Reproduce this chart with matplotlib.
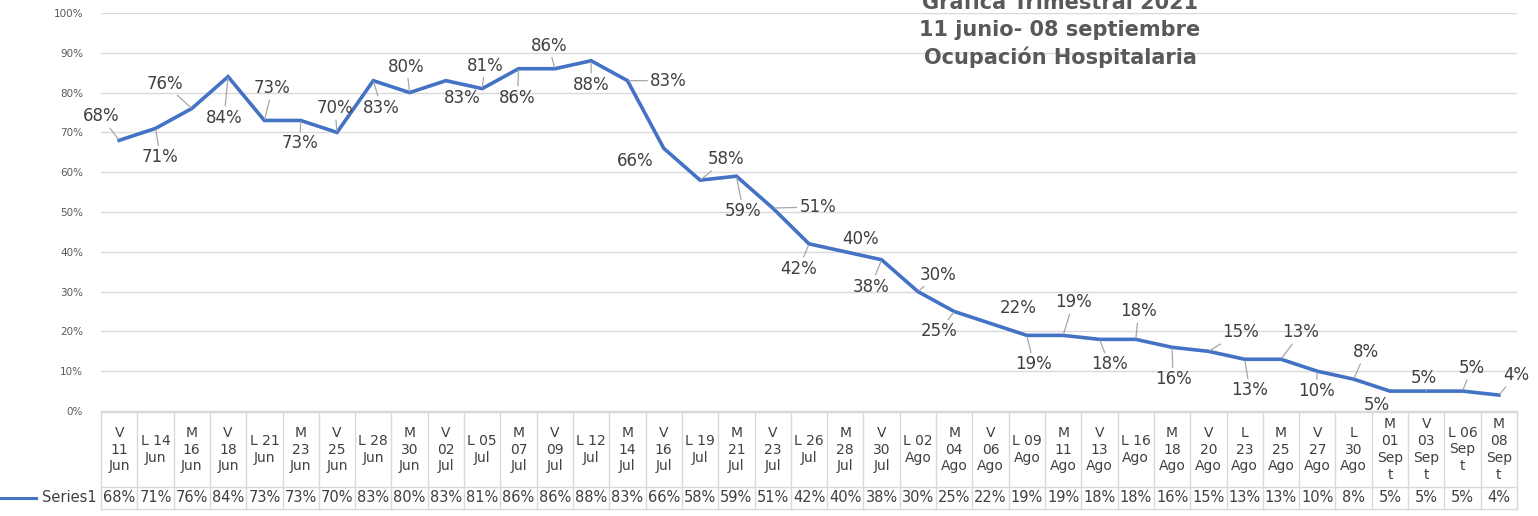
import matplotlib
matplotlib.use("Agg")
import matplotlib.pyplot as plt
from matplotlib.lines import Line2D

# data
categories = ["V\n11\nJun", "L 14\nJun", "M\n16\nJun", "V\n18\nJun", "L 21\nJun",
              "M\n23\nJun", "V\n25\nJun", "L 28\nJun", "M\n30\nJun", "V\n02\nJul",
              "L 05\nJul", "M\n07\nJul", "V\n09\nJul", "L 12\nJul", "M\n14\nJul",
              "V\n16\nJul", "L 19\nJul", "M\n21\nJul", "V\n23\nJul", "L 26\nJul",
              "M\n28\nJul", "V\n30\nJul", "L 02\nAgo", "M\n04\nAgo", "V\n06\nAgo",
              "L 09\nAgo", "M\n11\nAgo", "V\n13\nAgo", "L 16\nAgo", "M\n18\nAgo",
              "V\n20\nAgo", "L\n23\nAgo", "M\n25\nAgo", "V\n27\nAgo", "L\n30\nAgo",
              "M\n01\nSep\nt", "V\n03\nSep\nt", "L 06\nSep\nt", "M\n08\nSep\nt"]
ocupacion = [68, 71, 76, 84, 73, 73, 70, 83, 80, 83, 81, 86, 86, 88, 83, 66, 58, 59, 51,
             42, 40, 38, 30, 25, 22, 19, 19, 18, 18, 16, 15, 13, 13, 10, 8, 5, 5, 5, 4]
series_name = "Series1"
title_lines = ["Gráfica Trimestral 2021", "11 junio- 08 septiembre", "Ocupación Hospitalaria"]
yticks = [0, 10, 20, 30, 40, 50, 60, 70, 80, 90, 100]

# where each data label sits, in pixels from its point (x right, y down)
label_dx = [-18, 5, -27, -4, 8, -1, -2, 8, -3, 16, 3, -1, -6, 0, 41, -29, 26, 7, 45,
            -10, 15, -11, 20, -15, 28, 7, 10, 10, 3, 1, 32, 5, 20, -1, 12, -13, -2, 9, 17]
label_dy = [-24, 29, -25, 41, -32, 23, -24, 27, -26, 17, -23, 29, -23, 24, 0, 13, -21, 35, -1,
            25, -13, 27, -17, 20, -15, 29, -33, 25, -28, 32, -19, 31, -27, 20, -27, 14, -13, -23, -20]
no_leader = {9, 15, 20, 24, 35}

W, H = 1538, 516
fig = plt.figure(figsize=(W / 100, H / 100), dpi=100)
ax = fig.add_axes([101 / W, 1 - 411 / H, (1517 - 101) / W, (411 - 13) / H])

x = list(range(len(ocupacion)))
grid_c = "#d9d9d9"
text_c = "#404040"

ax.set_xlim(-0.5, len(x) - 0.5)
ax.set_ylim(0, 100)
ax.set_yticks(yticks)
ax.set_yticklabels([f"{t}%" for t in yticks], fontsize=7.5, color="#595959")
ax.tick_params(axis="y", length=0, pad=13)
ax.set_xticks([])
ax.grid(axis="y", color=grid_c, lw=1)
ax.set_axisbelow(True)
for s in ["top", "right", "left"]:
    ax.spines[s].set_visible(False)
ax.spines["bottom"].set_color(grid_c)

line_c = "#4472C4"
ax.plot(x, ocupacion, color=line_c, lw=2.6, solid_joinstyle="miter", zorder=3)

for i, v in enumerate(ocupacion):
    arrow = None
    if i not in no_leader:
        arrow = dict(arrowstyle="-", color="#a6a6a6", lw=0.9, shrinkA=0, shrinkB=1)
    ax.annotate(f"{v}%", (i, v), xytext=(label_dx[i], -label_dy[i]),
                textcoords="offset pixels", ha="center", va="center",
                fontsize=12, color=text_c, arrowprops=arrow, zorder=4,
                annotation_clip=False)

# data table under the plot
tr = ax.get_xaxis_transform()
def py(p):
    return (411 - p) / (411 - 13)

y_top, y_mid, y_bot = py(412), py(487), py(509)
for yy in [y_top, y_mid, y_bot]:
    ax.add_line(Line2D([-0.5, len(x) - 0.5], [yy, yy], transform=tr, color=grid_c,
                       lw=1, clip_on=False))
for k in range(len(x) + 1):
    ax.add_line(Line2D([k - 0.5, k - 0.5], [y_top, y_bot], transform=tr, color=grid_c,
                       lw=1, clip_on=False))
for i, cat in enumerate(categories):
    ax.text(i, (y_top + y_mid) / 2, cat, transform=tr, ha="center", va="center",
            fontsize=10, color=text_c, linespacing=1.25, clip_on=False)
    ax.text(i, (y_mid + y_bot) / 2, f"{ocupacion[i]}%", transform=tr, ha="center",
            va="center", fontsize=10.5, color=text_c, clip_on=False)

# legend key in the table row
fig.add_artist(Line2D([0, 36 / W], [1 - 498 / H, 1 - 498 / H], color=line_c, lw=2.2))
fig.text(97 / W, 1 - 498 / H, series_name, ha="right", va="center", fontsize=10.5,
         color=text_c)

# title, partly cut at the top like the original
for k, t in enumerate(title_lines):
    fig.text(1060 / W, 1 - (3 + 27 * k) / H, t, ha="center", va="center",
             fontsize=15, fontweight="bold", color="#595959")

fig.savefig("out.png", dpi=100)
